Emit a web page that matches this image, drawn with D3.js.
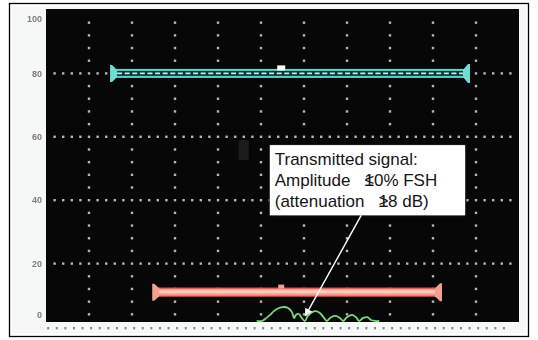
<!DOCTYPE html>
<html>
<head>
<meta charset="utf-8">
<script src="https://cdn.jsdelivr.net/npm/d3@7"></script>
<style>
  body { margin: 0; background: #fff; }
  svg { display: block; font-family: "Liberation Sans", Arial, sans-serif; }
</style>
</head>
<body>
<div id="chart"></div>
<script>
// screen divisions (horizontal) and amplitude in % FSH (vertical)
const yLabels = [100, 80, 60, 40, 20, 0];
const gridLevels = [20, 40, 60, 80];
const gridColumns = [1, 2, 3, 4, 5, 6, 7, 8, 9, 10];
const divisions = 11;

const blueGate = [1.49, 9.86];
const blueGateLevel = 80;
const blueGateMarker = 5.47;

const redGate = [2.47, 9.21];
const redGateLevel = 11;
const redGateMarker = 5.47;

// green A-scan trace near the baseline
const signalX = [4.90, 5.02, 5.12, 5.21, 5.30, 5.42, 5.51, 5.63, 5.72, 5.77, 5.81, 5.88, 5.95, 6.02,
  6.09, 6.19, 6.28, 6.37, 6.47, 6.53, 6.63, 6.74, 6.84, 6.91, 7.00, 7.12, 7.21, 7.28, 7.37, 7.47, 7.56, 7.65, 7.75];
const signalY = [1.9, 1.9, 2.8, 3.8, 5.0, 6.0, 6.3, 6.0, 4.7, 2.8, 3.8, 4.1, 2.8, 1.9,
  3.5, 4.7, 5.0, 4.4, 2.8, 1.9, 3.1, 3.5, 2.8, 1.9, 3.1, 3.8, 3.1, 1.9, 2.8, 3.1, 2.2, 1.9, 1.9];

const noteLines = [
  ["Transmitted signal:", "", ""],
  ["Amplitude", "\u2264", "10% FSH"],
  ["(attenuation", "\u2265", "18 dB)"]
];
const noteBox = [5.18, 9.75, 57.7, 35.2]; // x0, x1, yTop, yBottom in chart units
const arrowFrom = [7.33, 35.2];
const arrowTo = [6.03, 3.5];

function drawChart() {
  const width = 538;
  const height = 340;

  const svg = d3.select("#chart")
    .append("svg")
    .attr("width", width)
    .attr("height", height);

  const defs = svg.append("defs");
  defs.append("filter")
    .attr("id", "soft")
    .append("feGaussianBlur")
    .attr("stdDeviation", 0.45);
  defs.append("marker")
    .attr("id", "head")
    .attr("viewBox", "0 0 10 10")
    .attr("refX", 9)
    .attr("refY", 5)
    .attr("markerWidth", 9)
    .attr("markerHeight", 8)
    .attr("markerUnits", "userSpaceOnUse")
    .attr("orient", "auto")
    .append("path")
    .attr("d", "M0,0 L10,5 L0,10 Z")
    .attr("fill", "#fff");

  const x = d3.scaleLinear().domain([0, divisions]).range([46, 519]);
  const y = d3.scaleLinear().domain([0, 100]).range([327, 10]);

  const screenTop = 9;
  const screenBottom = 322;

  // outer frame
  svg.append("rect")
    .attr("x", 9.5)
    .attr("y", 3.5)
    .attr("width", 519)
    .attr("height", 333)
    .attr("fill", "#fff")
    .attr("stroke", "#000")
    .attr("stroke-width", 1.3);

  // light photo margin around screen
  svg.append("rect")
    .attr("x", 12)
    .attr("y", 6)
    .attr("width", 514)
    .attr("height", 327)
    .attr("fill", "#f6f7f7");

  // black screen
  svg.append("rect")
    .attr("x", x(0))
    .attr("y", screenTop)
    .attr("width", x(divisions) - x(0))
    .attr("height", screenBottom - screenTop)
    .attr("fill", "#070707");

  // y labels on the left
  svg.append("g")
    .attr("filter", "url(#soft)")
    .selectAll("text")
    .data(yLabels)
    .join("text")
    .attr("x", 42)
    .attr("y", (d) => Math.min(315, Math.max(19, y(d))))
    .attr("dy", "0.35em")
    .attr("text-anchor", "end")
    .attr("font-size", 9)
    .attr("font-weight", "bold")
    .attr("fill", "#7d7d7d")
    .text((d) => d);

  const screen = svg.append("g").attr("filter", "url(#soft)");

  // faint reflection
  screen.append("rect")
    .attr("x", x(4.48))
    .attr("y", y(59))
    .attr("width", 10)
    .attr("height", 20)
    .attr("fill", "#1b1b1b");

  // dotted horizontal graticule
  const hDots = d3.range(1, divisions * 5).map((i) => i / 5);
  gridLevels.forEach((level) => {
    screen.append("g")
      .selectAll("rect")
      .data(hDots)
      .join("rect")
      .attr("x", (d) => x(d) - 1.2)
      .attr("y", y(level) - 1.2)
      .attr("width", 2.4)
      .attr("height", 2.4)
      .attr("fill", "#b5b5b5");
  });

  // dotted vertical graticule
  const vDots = d3.range(1, 25).map((i) => i * 4).filter((v) => v % 20 !== 0);
  gridColumns.forEach((col) => {
    screen.append("g")
      .selectAll("rect")
      .data(vDots)
      .join("rect")
      .attr("x", x(col) - 1.2)
      .attr("y", (d) => y(d) - 1.2)
      .attr("width", 2.4)
      .attr("height", 2.4)
      .attr("fill", "#b5b5b5");
  });

  // baseline ticks below the screen
  svg.append("g")
    .attr("filter", "url(#soft)")
    .selectAll("rect")
    .data(d3.range(0, divisions * 5 - 1).map((i) => i / 5 + 0.05))
    .join("rect")
    .attr("x", (d) => x(d) - 1)
    .attr("y", 327)
    .attr("width", 2)
    .attr("height", 2.4)
    .attr("fill", "#7f8a8a");

  function capPath(x0, cy, dir, half, thick) {
    // flared end cap, dir = +1 for the left end, -1 for the right end
    const x1 = x0 + dir * 2;
    const x2 = x0 + dir * 7;
    return `M${x0},${cy - half} L${x1},${cy - half} L${x2},${cy - thick} L${x2},${cy + thick} L${x1},${cy + half} L${x0},${cy + half} Z`;
  }

  // blue (cyan) gate
  const bY = y(blueGateLevel);
  const bx0 = x(blueGate[0]);
  const bx1 = x(blueGate[1]);
  screen.append("rect")
    .attr("x", bx0 + 5)
    .attr("y", bY - 3.5)
    .attr("width", bx1 - bx0 - 10)
    .attr("height", 7)
    .attr("fill", "#103232")
    .attr("stroke", "#5fd6cc")
    .attr("stroke-width", 2);
  screen.append("line")
    .attr("x1", bx0 + 7)
    .attr("x2", bx1 - 7)
    .attr("y1", bY)
    .attr("y2", bY)
    .attr("stroke", "#b8f1ec")
    .attr("stroke-width", 1.6)
    .attr("stroke-dasharray", "5 2.6");
  screen.append("path").attr("d", capPath(bx0, bY, 1, 8.5, 3.5)).attr("fill", "#6fdcd2");
  screen.append("path").attr("d", capPath(bx1, bY, -1, 9.5, 3.5)).attr("fill", "#6fdcd2");
  screen.append("rect")
    .attr("x", x(blueGateMarker) - 4)
    .attr("y", bY - 8)
    .attr("width", 8)
    .attr("height", 5)
    .attr("fill", "#f4ffff");

  // red gate
  const rY = y(redGateLevel);
  const rx0 = x(redGate[0]);
  const rx1 = x(redGate[1]);
  screen.append("rect")
    .attr("x", rx0 + 5)
    .attr("y", rY - 4)
    .attr("width", rx1 - rx0 - 10)
    .attr("height", 8)
    .attr("fill", "#f3a090")
    .attr("stroke", "#d9554f")
    .attr("stroke-width", 1.2);
  screen.append("line")
    .attr("x1", rx0 + 6)
    .attr("x2", rx1 - 6)
    .attr("y1", rY - 0.5)
    .attr("y2", rY - 0.5)
    .attr("stroke", "#ffc9bc")
    .attr("stroke-width", 3);
  screen.append("path").attr("d", capPath(rx0, rY, 1, 8.5, 4)).attr("fill", "#f3a090");
  screen.append("path").attr("d", capPath(rx1, rY, -1, 9, 4)).attr("fill", "#f3a090");
  screen.append("rect")
    .attr("x", x(redGateMarker) - 3)
    .attr("y", rY - 7.5)
    .attr("width", 6)
    .attr("height", 4)
    .attr("fill", "#f3a090");

  // green signal trace
  const line = d3.line()
    .x((d) => x(d[0]))
    .y((d) => y(d[1]))
    .curve(d3.curveCatmullRom.alpha(0.5));
  screen.append("path")
    .datum(signalX.map((v, i) => [v, signalY[i]]))
    .attr("d", line)
    .attr("fill", "none")
    .attr("stroke", "#7bd87b")
    .attr("stroke-width", 1.8);

  // annotation box
  const bx = x(noteBox[0]);
  const by = y(noteBox[2]);
  svg.append("rect")
    .attr("x", bx + 0.5)
    .attr("y", by + 0.5)
    .attr("width", x(noteBox[1]) - bx)
    .attr("height", y(noteBox[3]) - by)
    .attr("fill", "#fff")
    .attr("stroke", "#111")
    .attr("stroke-width", 1);

  const note = svg.append("g")
    .attr("font-size", 17)
    .attr("fill", "#151515");
  noteLines.forEach((ln, i) => {
    const t = note.append("text")
      .attr("x", bx + 6)
      .attr("y", by + 21 + i * 20.8);
    t.append("tspan").text(ln[0]);
    if (ln[1]) {
      // the comparison sign sits on top of the leading "1", as in the photo
      t.append("tspan").attr("dx", "0.83em").text(ln[1]);
      t.append("tspan").attr("dx", "-0.549em").text(ln[2]);
    }
  });

  // arrow to the transmitted signal
  svg.append("line")
    .attr("x1", x(arrowFrom[0]))
    .attr("y1", y(arrowFrom[1]))
    .attr("x2", x(arrowTo[0]))
    .attr("y2", y(arrowTo[1]))
    .attr("stroke", "#fff")
    .attr("stroke-width", 1.4)
    .attr("marker-end", "url(#head)");
}

drawChart();
</script>
</body>
</html>
